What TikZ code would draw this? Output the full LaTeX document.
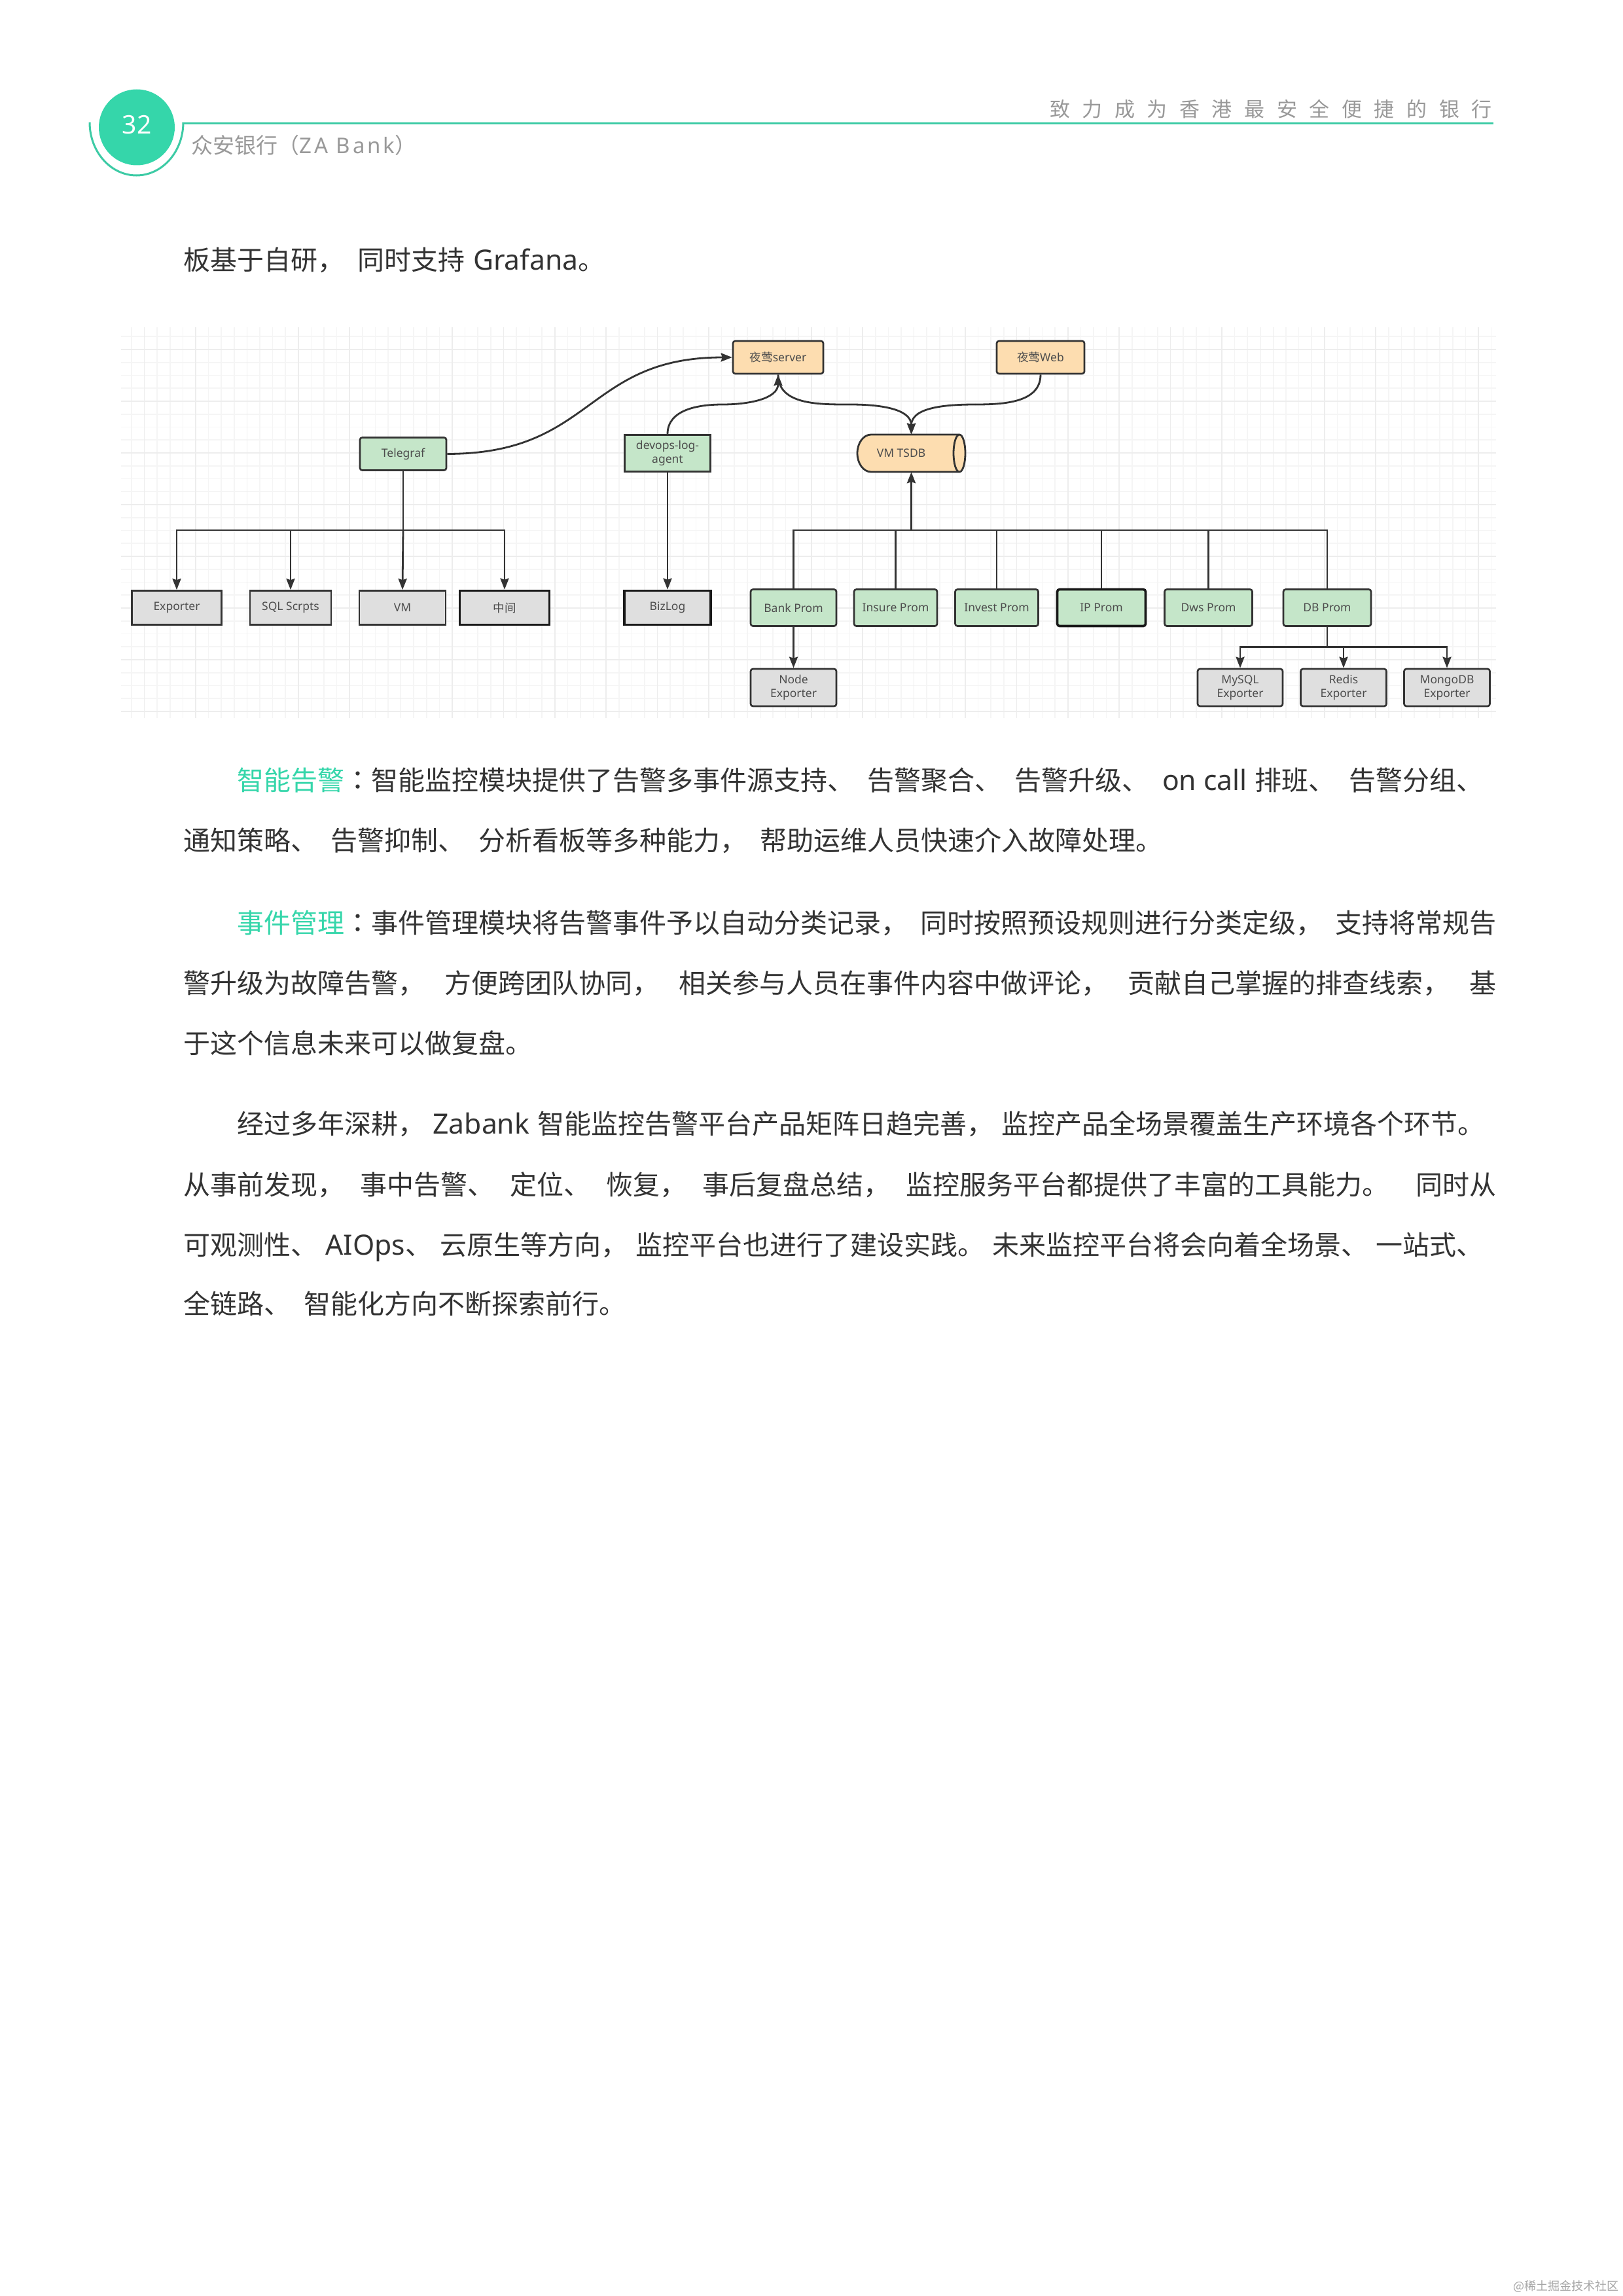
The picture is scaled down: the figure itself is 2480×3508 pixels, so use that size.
\documentclass[tikz,border=0pt]{standalone}
\usepackage{fontspec}
\usepackage{tikz}
\usetikzlibrary{arrows.meta}

\setmainfont{Noto Sans CJK SC}
\newfontfamily\latfont{Noto Sans}
\newfontfamily\bodylatfont[Scale=1.04]{Noto Sans}
\newfontfamily\namefont[LetterSpace=12]{Noto Sans}
\newfontfamily\tcfont{Noto Sans CJK TC}
\newfontfamily\sloganfont[LetterSpace=60]{Noto Sans CJK SC}
\newcommand{\lat}[1]{{\bodylatfont\spaceskip=0pt\relax #1}}
\newcommand{\latgap}{\hspace{.3em}}
\newcommand{\midcolon}{{\tcfont ：}}
\newcommand{\widespaces}{\spaceskip=0.5em plus 0.4em minus 0.3em\relax}

\definecolor{zagreen}{HTML}{35D6AA}
\definecolor{zaline}{HTML}{3DCBA5}
\definecolor{bodyink}{HTML}{333333}
\definecolor{headgray}{HTML}{999999}
\definecolor{edgeink}{HTML}{333333}
\definecolor{labelink}{HTML}{4D4D4D}
\definecolor{greenfill}{HTML}{C5E6C9}
\definecolor{orangefill}{HTML}{FDDDB0}
\definecolor{grayfill}{HTML}{DFDFDF}

\tikzset{
  bodyline/.style={anchor=base west,inner sep=0pt,text=bodyink,
    font=\fontsize{41}{50}\selectfont,execute at begin node=\widespaces},
  box/.style={draw=edgeink,line width=2.7pt,inner sep=0pt,minimum height=50pt,
    align=center,text=labelink,font=\fontsize{17.5}{21}\selectfont\latfont},
  softbox/.style={box,rounded corners=3.5pt},
  heavybox/.style={line width=3.6pt,draw=black!90},
  greenbox/.style={softbox,fill=greenfill},
  orangebox/.style={softbox,fill=orangefill},
  graybox/.style={softbox,fill=grayfill,minimum height=57pt},
  plainbox/.style={box,fill=grayfill,minimum height=52pt},
  link/.style={draw=edgeink,line width=2.8pt},
  flow/.style={link,-{Stealth[length=17pt,width=13pt,inset=2pt]}}
}

\begin{document}
\begin{tikzpicture}[x=1pt,y=1pt]

\useasboundingbox (0,0) rectangle (2480,-3508);
\fill[white] (0,0) rectangle (2480,-3508);

% Page header
\draw[zaline,line width=3pt] (137,-187) arc[start angle=180,end angle=360,x radius=71.5,y radius=81];
\draw[zaline,line width=3.4pt] (280,-188.5) -- (2282,-188.5);
\fill[zagreen] (209,-194.5) circle (58);
\node[inner sep=0pt,text=white,font=\fontsize{39}{44}\selectfont\latfont] (pageno) at (209,-191) {32};
\node[anchor=west,inner sep=0pt,text=headgray,font=\fontsize{33}{40}\selectfont] (bankname) at (292,-222)
  {众安银行（{\namefont ZA Bank}）};
\node[anchor=east,inner sep=0pt,text=headgray,font=\fontsize{31}{40}\selectfont\sloganfont] (slogan) at (2280,-167)
  {致力成为香港最安全便捷的银行};

% Text above the chart
\node[bodyline] (lineA) at (280,-412) {板基于自研， 同时支持\latgap\lat{Grafana}。};

% Grid behind the chart
\draw[black!4,line width=1.6pt,shift={(220.5,-534)},xstep=19.6,ystep=19.75] (-36,34) grid (2065,-563);
\draw[black!7,line width=1.6pt,shift={(220.5,-534)},xstep=78.4,ystep=79] (-36,34) grid (2065,-563);

% Top row
\node[orangebox,minimum width=138pt] (nserver) at (1189,-546) {{\rmfamily 夜莺}server};
\node[orangebox,minimum width=134pt] (nweb) at (1590,-546) {{\rmfamily 夜莺}Web};

% Agents and the store
\node[greenbox,minimum width=132pt] (telegraf) at (616,-693.5) {Telegraf};
\node[box,fill=greenfill,minimum width=131pt,minimum height=56pt] (devops) at (1020,-692.5) {devops-log-\\agent};
\draw[link,fill=orangefill] (1331,-664) -- (1466,-664) arc[start angle=90,end angle=-90,x radius=9,y radius=28.5]
  -- (1331,-721) arc[start angle=270,end angle=90,x radius=21,y radius=28.5] -- cycle;
\draw[link] (1466,-664) arc[start angle=90,end angle=270,x radius=9,y radius=28.5];
\node[inner sep=0pt,minimum width=165pt,minimum height=57pt,text=labelink,font=\fontsize{17.5}{21}\selectfont\latfont] (tsdb) at (1392.5,-692.5) {\hspace*{-31pt}VM TSDB};

% Left group
\node[plainbox,minimum width=137pt] (exporter) at (270,-928.5) {Exporter};
\node[plainbox,minimum width=124pt] (sqlscript) at (444,-928.5) {SQL Scrpts};
\node[plainbox,minimum width=132pt] (vmbox) at (615,-928.5) {VM};
\node[plainbox,heavybox,minimum width=137pt] (middle) at (771,-928.5) {{\rmfamily 中间}};
\node[plainbox,heavybox,minimum width=132pt] (bizlog) at (1020,-928.5) {BizLog};

% Prom row
\node[greenbox,minimum height=56pt,minimum width=131pt] (bankprom) at (1212.5,-928.5) {Bank Prom};
\node[greenbox,minimum height=56pt,minimum width=127pt] (insureprom) at (1368.5,-928.5) {Insure Prom};
\node[greenbox,minimum height=56pt,minimum width=127pt] (investprom) at (1523,-928.5) {Invest Prom};
\node[greenbox,heavybox,minimum height=56pt,minimum width=135pt] (ipprom) at (1683,-928.5) {IP Prom};
\node[greenbox,minimum height=56pt,minimum width=134pt] (dwsprom) at (1846.5,-928.5) {Dws Prom};
\node[greenbox,minimum height=56pt,minimum width=134pt] (dbprom) at (2028,-928.5) {DB Prom};

% Exporter row
\node[graybox,minimum width=131pt] (nodeexp) at (1212.5,-1050.5) {Node\\Exporter};
\node[graybox,minimum width=130pt] (mysqlexp) at (1895,-1050.5) {MySQL\\Exporter};
\node[graybox,minimum width=131pt] (redisexp) at (2053,-1050.5) {Redis\\Exporter};
\node[graybox,minimum width=131pt] (mongoexp) at (2211,-1050.5) {MongoDB\\Exporter};

% Bus points
\coordinate (telebus) at (616,-810);
\coordinate (prombus) at (1392.5,-810);
\coordinate (dbbus) at (2028,-988.5);
\coordinate (devopsbend) at (1104,-618);
\coordinate (serverbend) at (1300,-618);
\coordinate (webbend) at (1490,-618);

% Telegraf side
\draw[flow] (telegraf.east) to[out=0,in=180,looseness=1.25] (nserver.west);
\draw[link] (telegraf.south) -- (telebus);
\draw[flow] (telebus) -| (exporter.north);
\draw[flow] (telebus) -| (sqlscript.north);
\draw[flow] (telebus) -- (vmbox.north);
\draw[flow] (telebus) -| (middle.north);
\draw[flow] (devops.south) -- (bizlog.north);

% Curves at the top
\draw[link] (devops.north) to[out=90,in=180] (devopsbend);
\draw[flow] (devopsbend) to[out=0,in=-90] (nserver.south);
\draw[link] (nserver.south) to[out=-90,in=180] (serverbend);
\draw[flow] (serverbend) to[out=0,in=90] (tsdb.north);
\draw[link] (nweb.south) to[out=-90,in=0] (webbend);
\draw[flow] (webbend) to[out=180,in=90] (tsdb.north);

% Prom side
\draw[flow] (prombus) -- (tsdb.south);
\draw[link] (bankprom.north) |- (prombus);
\draw[link] (insureprom.north) |- (prombus);
\draw[link] (investprom.north) |- (prombus);
\draw[link] (ipprom.north) |- (prombus);
\draw[link] (dwsprom.north) |- (prombus);
\draw[link] (dbprom.north) |- (prombus);
\draw[flow] (bankprom.south) -- (nodeexp.north);
\draw[link] (dbprom.south) -- (dbbus);
\draw[flow] (dbbus) -| (mysqlexp.north);
\draw[flow] (dbbus) -| (redisexp.north);
\draw[flow] (dbbus) -| (mongoexp.north);

% Text below the chart
\node[bodyline] (lineB) at (362,-1207) {\makebox[1904pt][s]{\textcolor{zagreen}{智能告警}\midcolon 智能监控模块提供了告警多事件源支持、 告警聚合、 告警升级、 \lat{on call}\latgap 排班、 告警分组、}};
\node[bodyline] (lineC) at (280,-1299) {通知策略、 告警抑制、 分析看板等多种能力， 帮助运维人员快速介入故障处理。};
\node[bodyline] (lineD) at (362,-1425) {\makebox[1924pt][s]{\textcolor{zagreen}{事件管理}\midcolon 事件管理模块将告警事件予以自动分类记录， 同时按照预设规则进行分类定级， 支持将常规告}};
\node[bodyline] (lineE) at (280,-1517) {\makebox[2006pt][s]{警升级为故障告警， 方便跨团队协同， 相关参与人员在事件内容中做评论， 贡献自己掌握的排查线索， 基}};
\node[bodyline] (lineF) at (280,-1609) {于这个信息未来可以做复盘。};
\node[bodyline] (lineG) at (362,-1732) {\makebox[1906pt][s]{经过多年深耕，\latgap\lat{Zabank}\latgap 智能监控告警平台产品矩阵日趋完善， 监控产品全场景覆盖生产环境各个环节。}};
\node[bodyline] (lineH) at (280,-1825) {\makebox[2006pt][s]{从事前发现， 事中告警、 定位、 恢复， 事后复盘总结， 监控服务平台都提供了丰富的工具能力。\hspace{.4em} 同时从}};
\node[bodyline] (lineI) at (280,-1917) {\makebox[1986pt][s]{可观测性、\latgap\lat{AIOps}、 云原生等方向， 监控平台也进行了建设实践。 未来监控平台将会向着全场景、 一站式、}};
\node[bodyline] (lineJ) at (280,-2007) {全链路、 智能化方向不断探索前行。};

% Corner mark
\node[anchor=east,inner sep=0pt,text=black!35,font=\fontsize{18}{22}\selectfont] (cornermark) at (2474,-3493) {@稀土掘金技术社区};

\end{tikzpicture}
\end{document}
